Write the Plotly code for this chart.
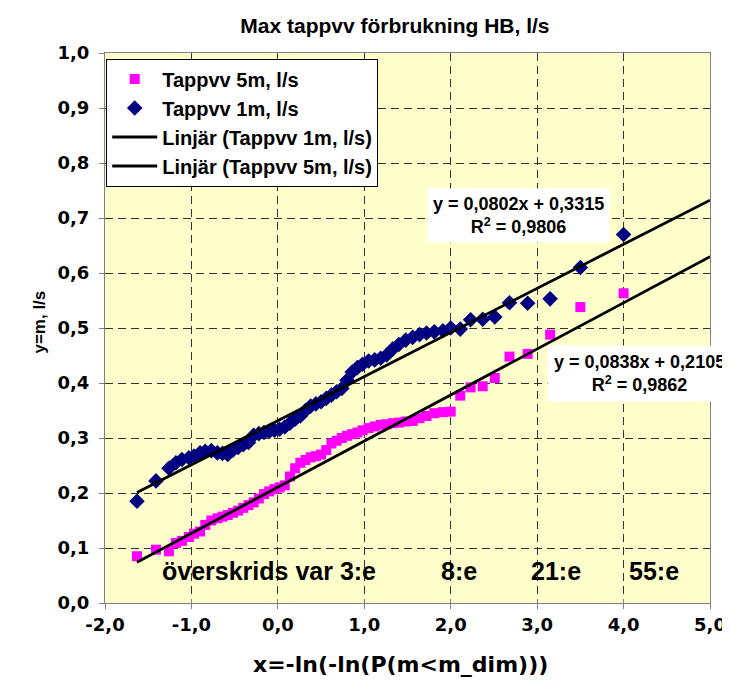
import plotly.graph_objects as go

# ---- data ----
x_pos = [-1.63, -1.41, -1.26, -1.18, -1.11, -1.03, -0.97, -0.90, -0.84, -0.77,
         -0.70, -0.64, -0.58, -0.52, -0.46, -0.40, -0.34, -0.28, -0.22, -0.16,
         -0.10, -0.04, 0.02, 0.08, 0.14, 0.20, 0.26, 0.32, 0.38, 0.44,
         0.50, 0.56, 0.62, 0.68, 0.74, 0.80, 0.86, 0.92, 0.98, 1.05,
         1.12, 1.19, 1.26, 1.33, 1.40, 1.48, 1.56, 1.64, 1.72, 1.81,
         1.91, 2.00, 2.11, 2.23, 2.37, 2.51, 2.68, 2.89, 3.15, 3.50, 4.00]

y_1m = [0.185, 0.222, 0.245, 0.255, 0.261, 0.264, 0.267, 0.273, 0.276, 0.277,
        0.273, 0.272, 0.270, 0.278, 0.283, 0.288, 0.292, 0.305, 0.308, 0.310,
        0.312, 0.314, 0.316, 0.320, 0.327, 0.334, 0.340, 0.350, 0.358, 0.362,
        0.366, 0.372, 0.378, 0.384, 0.390, 0.405, 0.420, 0.428, 0.434, 0.440,
        0.442, 0.445, 0.451, 0.462, 0.470, 0.478, 0.483, 0.488, 0.491, 0.493,
        0.495, 0.500, 0.498, 0.515, 0.516, 0.520, 0.546, 0.545, 0.553, 0.610, 0.670]

y_5m = [0.085, 0.097, 0.094, 0.109, 0.113, 0.120, 0.126, 0.130, 0.142, 0.150,
        0.154, 0.157, 0.160, 0.164, 0.168, 0.173, 0.178, 0.183, 0.190, 0.198,
        0.203, 0.207, 0.210, 0.214, 0.230, 0.245, 0.255, 0.260, 0.265, 0.267,
        0.270, 0.278, 0.290, 0.295, 0.300, 0.304, 0.307, 0.310, 0.314, 0.318,
        0.321, 0.324, 0.325, 0.327, 0.328, 0.330, 0.331, 0.336, 0.340, 0.345,
        0.347, 0.348, 0.377, 0.392, 0.394, 0.409, 0.448, 0.453, 0.488, 0.538, 0.563]

slope_1m, icpt_1m, r2_1m = 0.0802, 0.3315, 0.9806
slope_5m, icpt_5m, r2_5m = 0.0838, 0.2105, 0.9862
trend_x = [-1.63, 5.0]

x_tickvals = [-2, -1, 0, 1, 2, 3, 4, 5]
x_ticktext = ["-2,0", "-1,0", "0,0", "1,0", "2,0", "3,0", "4,0", "5,0"]
y_tickvals = [0, 0.1, 0.2, 0.3, 0.4, 0.5, 0.6, 0.7, 0.8, 0.9, 1.0]
y_ticktext = ["0,0", "0,1", "0,2", "0,3", "0,4", "0,5", "0,6", "0,7", "0,8", "0,9", "1,0"]

period_labels = ["överskrids var 3:e", "8:e", "21:e", "55:e"]

title_text = "Max tappvv förbrukning HB, l/s"
x_title = "x=-ln(-ln(P(m<m_dim)))"
y_title = "y=m, l/s"

FONT = "Liberation Sans, Arial, sans-serif"
WIDE = "DejaVu Sans, Verdana, sans-serif"

def fmt(v, nd):
    return f"{v:.{nd}f}".replace(".", ",")

def bold(size, fam=FONT):
    return dict(family=fam, size=size, color="black", weight="bold")

fig = go.Figure()

fig.add_trace(go.Scatter(
    x=x_pos, y=y_5m, mode="markers", name="Tappvv 5m, l/s",
    legendgroup="a",
    marker=dict(symbol="square", size=10, color="#FF00FF", line=dict(width=0)),
))
fig.add_trace(go.Scatter(
    x=x_pos, y=y_1m, mode="markers", name="Tappvv 1m, l/s",
    legendgroup="b",
    marker=dict(symbol="diamond", size=12, color="#000080", line=dict(width=0)),
))
fig.add_trace(go.Scatter(
    x=trend_x, y=[slope_1m * v + icpt_1m for v in trend_x], mode="lines",
    name="Linjär (Tappvv 1m, l/s)", legendgroup="c",
    line=dict(color="black", width=2.8),
))
fig.add_trace(go.Scatter(
    x=trend_x, y=[slope_5m * v + icpt_5m for v in trend_x], mode="lines",
    name="Linjär (Tappvv 5m, l/s)", legendgroup="d", xaxis="x2",
    line=dict(color="black", width=2.8),
))

annos = []
annos.append(dict(
    x=2.78, y=0.705, xref="x", yref="y",
    text=f"y = {fmt(slope_1m,4)}x + {fmt(icpt_1m,4)}<br>R<sup>2</sup> = {fmt(r2_1m,4)}",
    showarrow=False, align="center", bgcolor="white", borderpad=5,
    font=bold(18),
))
annos.append(dict(
    x=4.18, y=0.417, xref="x", yref="y",
    text=f"y = {fmt(slope_5m,4)}x + {fmt(icpt_5m,4)}<br>R<sup>2</sup> = {fmt(r2_5m,4)}",
    showarrow=False, align="center", bgcolor="white", borderpad=6,
    font=bold(18),
))
label_x = [-1.36, 1.86, 2.90, 4.04]
for lx, lt in zip(label_x, period_labels):
    annos.append(dict(
        x=lx, y=0.058, xref="x", yref="y", xanchor="left", yanchor="middle",
        text=lt, showarrow=False, font=bold(25),
    ))
# axis titles
annos.append(dict(
    x=0.488, y=-0.112, xref="paper", yref="paper", xanchor="center", yanchor="middle",
    text=x_title, showarrow=False, font=bold(22, WIDE),
))
annos.append(dict(
    x=-0.109, y=0.51, xref="paper", yref="paper", xanchor="center", yanchor="middle",
    text=y_title, showarrow=False, textangle=-90, font=bold(17),
))

grid = dict(showgrid=True, gridcolor="#333333", gridwidth=1, griddash="8px,5px",
            showline=True, linecolor="#808080", linewidth=1, mirror=True,
            ticks="outside", ticklen=5, tickcolor="#808080", zeroline=False,
            tickfont=bold(18, WIDE))

fig.update_layout(
    width=730, height=681,
    margin=dict(l=97, r=20, t=45, b=86),
    paper_bgcolor="white", plot_bgcolor="#FFFFCC",
    title=dict(text=title_text, x=0.53, xanchor="center", y=1 - 18 / 681,
               yanchor="middle", xref="container", yref="container",
               font=bold(21)),
    xaxis=dict(range=[-2, 5], tickvals=x_tickvals, ticktext=x_ticktext, **grid),
    xaxis2=dict(range=[-2, 5], overlaying="x", side="bottom", anchor="y",
                tickvals=x_tickvals, ticks="inside", ticklen=4, tickcolor="#808080",
                showticklabels=False, showgrid=False, showline=False, zeroline=False),
    yaxis=dict(range=[0, 1], tickvals=y_tickvals, ticktext=y_ticktext,
               ticklabelstandoff=6, **grid),
    legend=dict(x=0.002, y=0.99, xanchor="left", yanchor="top",
                bgcolor="white", bordercolor="black", borderwidth=1,
                tracegroupgap=7, traceorder="normal", itemwidth=45,
                font=bold(20)),
    annotations=annos,
    showlegend=True,
)

fig.write_html("out.html")
